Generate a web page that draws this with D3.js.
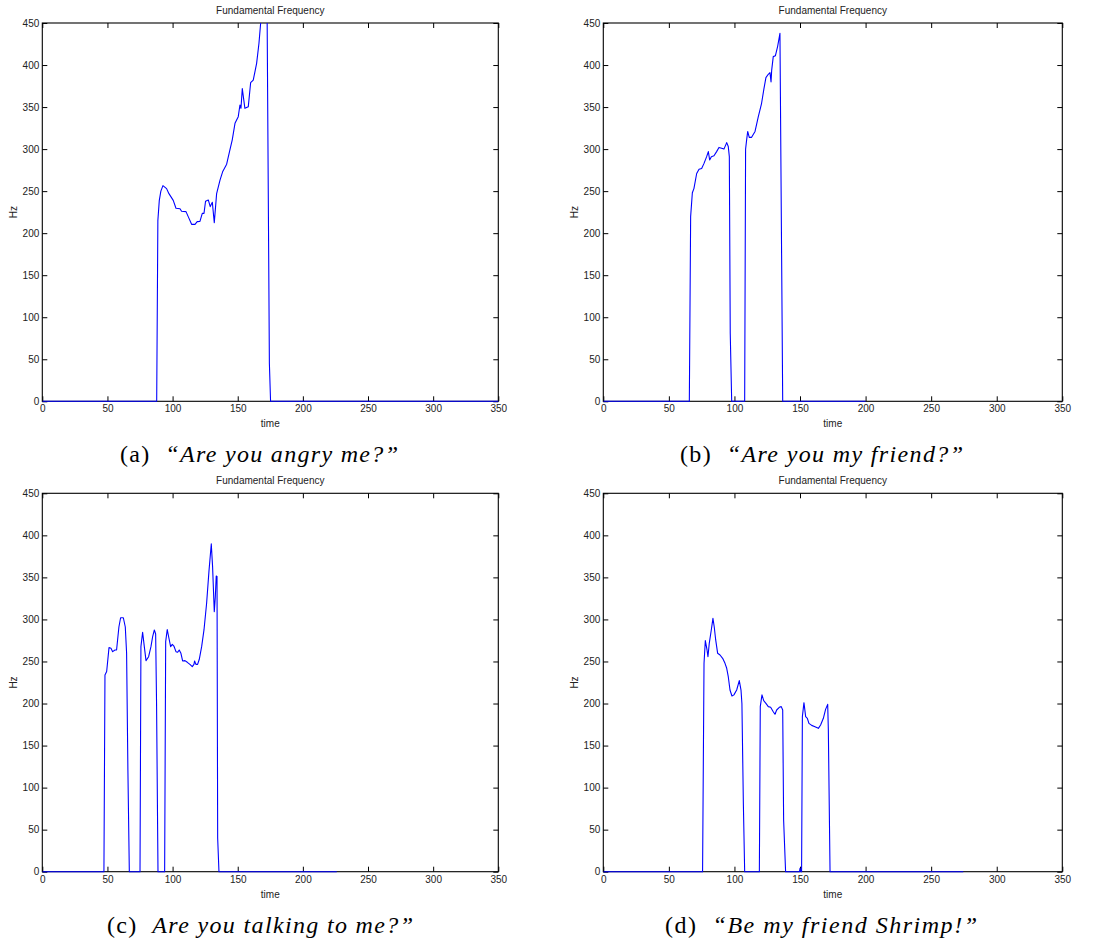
<!DOCTYPE html>
<html>
<head>
  <meta charset="utf-8">
  <title>Fundamental Frequency</title>
  <style>
    body { margin: 0; background: #fff; }
    svg { display: block; }
    .axis text { font: 10px "Liberation Sans", Arial, sans-serif; fill: #222; }
    .axis path { display: none; }
    .axis line { stroke: #000; }
    .lbl { font: 10px "Liberation Sans", Arial, sans-serif; fill: #222; }
    .cap { font-family: "Liberation Serif", "DejaVu Serif", serif; font-size: 24px; fill: #000; }
  </style>
  <script src="https://d3js.org/d3.v7.min.js"></script>
</head>
<body>
<script>
  // pitch tracks, [time, Hz]
  var curveA = [[0,0],[87.8,0],[88.7,215],[89.8,239],[91,250],[92.6,256.5],[95.4,253],[97.2,247],
    [100.5,239],[102.6,229.6],[105.7,229],[106.9,226],[110.3,225.6],[112,219.7],[114.6,210.5],
    [117.2,210.5],[118.9,213.7],[121,214],[122.8,223.6],[124.1,223.6],[125.3,238],[127.4,239.5],
    [128.9,231.6],[130.5,236.7],[132,212.5],[133.8,247],[136.4,263],[138.4,273],[141.5,282],
    [144,299],[145.8,311],[147.9,330.7],[150.4,338.6],[151.7,352.5],[152.5,348.5],[153.5,372],
    [155.5,348.5],[158.1,350.5],[159.9,379],[161.9,382],[164.5,402],[166.3,425.9],[167.6,450],
    [169.5,490],[171,510],[172.3,520],[174.3,45],[175.2,0],[350,0]];

  var curveB = [[0,0],[65.6,0],[66.6,219.7],[67.9,248],[69.1,253],[71.2,271],[73,276],[75,277],
    [76.8,283],[78.8,291],[80.1,297],[81.1,287],[82.4,291],[84.4,292],[86.4,297],[88.2,302],
    [90.2,301],[92,300],[94.1,307.7],[95.3,303],[96.1,291],[96.8,81],[97.9,0],[107.8,0],
    [108.5,300],[109.3,311],[110.1,321],[111.3,314],[113.1,314],[115.7,321],[118.2,338.6],
    [120.7,354.5],[122.5,372],[124,385],[125.8,389],[127.1,391],[127.9,380],[128.4,394],
    [129.6,410],[131.2,411],[132.9,422],[134.7,437.7],[136.8,0],[200,0]];

  var curveC = [[0,0],[47.3,0],[48.1,234],[49.4,238],[51.2,266.5],[52.7,265.7],[54,261.7],
    [55.8,263.7],[57,263.7],[58.8,291],[60.1,302],[62.2,302],[63.7,291],[64.7,260],[65.7,121],
    [66.8,0],[75,0],[75.7,267.6],[77,284.7],[78.3,267.6],[79.6,251],[81.6,255.7],[83.4,267.6],
    [84.7,279.5],[86,287.5],[87,282.7],[87.7,200],[88.8,0],[93.9,0],[94.7,273.6],[95.9,288],
    [97.2,277.6],[98.5,267.6],[99.8,270.4],[101,268.4],[102.6,261.7],[103.9,260.9],[105.1,263.7],
    [106.4,259.7],[107.7,250.6],[109.5,251],[111.3,249],[113.3,246.6],[115.1,243.9],[116.4,246.6],
    [116.9,250.6],[117.9,246.6],[119.2,246.6],[120.5,252.6],[122.3,267.6],[124.1,287.5],
    [126.1,319],[127.9,356.9],[129.7,389.8],[130.7,362.8],[132,309.3],[132.8,327],[133.5,351.7],
    [134.1,351],[134.6,40],[135.6,0],[226,0]];

  var curveD = [[0,0],[75.7,0],[76.8,247.8],[77.8,274.8],[79.1,263.7],[79.8,255.7],[80.8,271.6],
    [82.4,288],[83.6,301.3],[84.6,291],[85.7,275.6],[87.2,259.7],[89,257.7],[91,253.8],
    [92.8,247.8],[94.1,241.9],[95.3,231.9],[96.6,216.1],[98.1,209],[99.6,210.3],[101.7,216.1],
    [103.7,227.2],[105,216],[105.7,200],[106.8,81],[107.8,0],[119,0],[119.7,196.3],[121,210.3],
    [122.3,203.5],[124,200.2],[125.8,196.3],[127.6,195.5],[129.6,190.3],[130.9,187.2],
    [132.2,192.3],[134.2,195.5],[135.7,196.3],[136.8,192.3],[137.5,61.5],[139,0],[149.6,0],
    [150,4],[150.6,0],[151.2,0],[151.8,184.4],[153,201],[154.3,184.4],[155.6,182.4],[156.8,176.4],
    [158.9,174],[161.4,172.5],[164,170.5],[165.7,174.4],[167.8,182.4],[169.5,193],[171.1,199],
    [171.6,168.5],[172.9,0],[274.5,0]];

  var xTicks = [0, 50, 100, 150, 200, 250, 300, 350];
  var yTicks = [0, 50, 100, 150, 200, 250, 300, 350, 400, 450];
  var captionTags = ["(a)", "(b)", "(c)", "(d)"];
  var captionTexts = ["\u201cAre you angry me?\u201d", "\u201cAre you my friend?\u201d",
    "Are you talking to me?\u201d", "\u201cBe my friend Shrimp!\u201d"];

  var curves = [curveA, curveB, curveC, curveD];

  // plot boxes and caption extents, in page pixels
  var boxes = [
    {x0: 42.3, x1: 498.3, y0: 23, y1: 401.3, cx0: 120, cx1: 398, cy: 462},
    {x0: 603.3, x1: 1062.3, y0: 23, y1: 401.3, cx0: 680, cx1: 963, cy: 462},
    {x0: 42.3, x1: 498.3, y0: 493.3, y1: 871.7, cx0: 107, cx1: 413, cy: 933},
    {x0: 603.3, x1: 1062.3, y0: 493.3, y1: 871.7, cx0: 665, cx1: 977, cy: 933}
  ];

  var svg = d3.select("body").append("svg")
    .attr("width", 1096)
    .attr("height", 941);

  boxes.forEach(function(b, i) {
    var x = d3.scaleLinear().domain([0, 350]).range([b.x0, b.x1]);
    var y = d3.scaleLinear().domain([0, 450]).range([b.y1, b.y0]);
    var g = svg.append("g");

    g.append("rect")
      .attr("x", b.x0).attr("y", b.y0)
      .attr("width", b.x1 - b.x0).attr("height", b.y1 - b.y0)
      .attr("fill", "none").attr("stroke", "#000").attr("stroke-width", 1.1);

    g.append("g").attr("class", "axis")
      .attr("transform", "translate(0," + b.y1 + ")")
      .call(d3.axisBottom(x).tickValues(xTicks).tickSizeInner(-5).tickSizeOuter(0).tickPadding(4));
    g.append("g").attr("class", "axis")
      .attr("transform", "translate(0," + b.y0 + ")")
      .call(d3.axisTop(x).tickValues(xTicks).tickSizeInner(-5).tickSizeOuter(0).tickFormat(""));
    g.append("g").attr("class", "axis")
      .attr("transform", "translate(" + b.x0 + ",0)")
      .call(d3.axisLeft(y).tickValues(yTicks).tickSizeInner(-5).tickSizeOuter(0).tickPadding(3));
    g.append("g").attr("class", "axis")
      .attr("transform", "translate(" + b.x1 + ",0)")
      .call(d3.axisRight(y).tickValues(yTicks).tickSizeInner(-5).tickSizeOuter(0).tickFormat(""));

    var clipId = "clip" + i;
    svg.append("clipPath").attr("id", clipId)
      .append("rect")
      .attr("x", b.x0).attr("y", b.y0)
      .attr("width", b.x1 - b.x0 + 2).attr("height", b.y1 - b.y0 + 2);

    var line = d3.line().x(d => x(d[0])).y(d => y(d[1]));
    g.append("path")
      .datum(curves[i])
      .attr("clip-path", "url(#" + clipId + ")")
      .attr("d", line)
      .attr("fill", "none")
      .attr("stroke", "#0000ff")
      .attr("stroke-width", 1.1)
      .attr("stroke-linejoin", "round");

    var cx = (b.x0 + b.x1) / 2;
    g.append("text").attr("class", "lbl")
      .attr("x", cx).attr("y", b.y0 - 9)
      .attr("text-anchor", "middle")
      .text("Fundamental Frequency");
    g.append("text").attr("class", "lbl")
      .attr("x", cx).attr("y", b.y1 + 26)
      .attr("text-anchor", "middle")
      .text("time");
    g.append("text").attr("class", "lbl")
      .attr("transform", "translate(" + (b.x0 - 25) + "," + ((b.y0 + b.y1) / 2) + ") rotate(-90)")
      .attr("text-anchor", "middle")
      .text("Hz");

    var cap = g.append("text").attr("class", "cap")
      .attr("x", b.cx0).attr("y", b.cy)
      .attr("textLength", b.cx1 - b.cx0)
      .attr("lengthAdjust", "spacing");
    cap.append("tspan").text(captionTags[i] + "\u00a0\u00a0");
    cap.append("tspan").attr("font-style", "italic").text(captionTexts[i]);
  });
</script>
</body>
</html>
